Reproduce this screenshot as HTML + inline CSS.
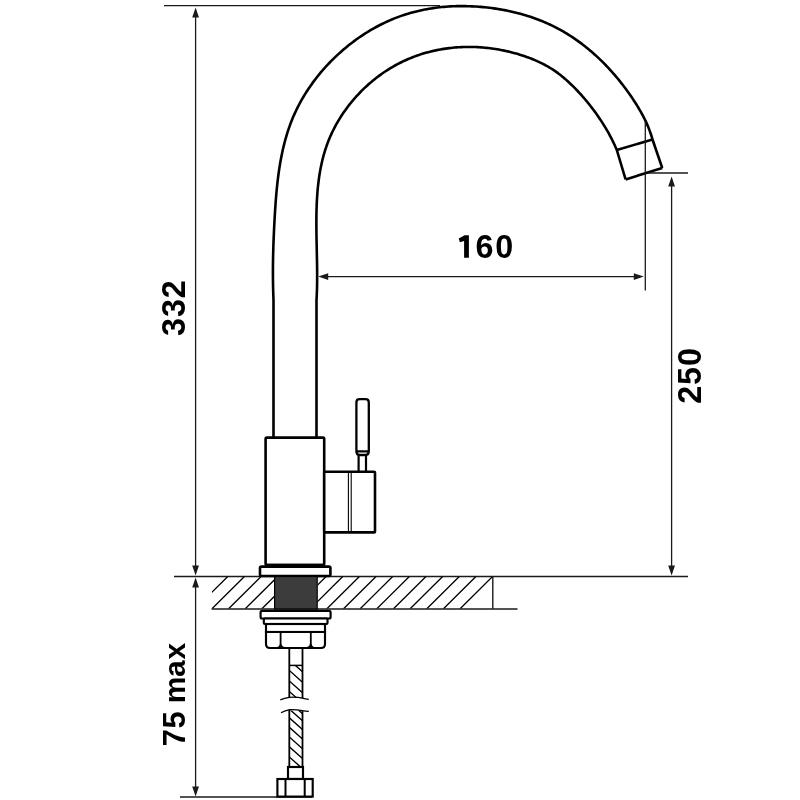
<!DOCTYPE html>
<html><head><meta charset="utf-8"><style>
html,body{margin:0;padding:0;background:#fff;width:800px;height:800px;overflow:hidden;font-family:"Liberation Sans",sans-serif;}
svg{display:block;will-change:transform}
</style></head><body>
<svg width="800" height="800" viewBox="0 0 800 800"><path d="M 273.5 437 L 273.50 300.00 L 273.41 297.79 L 273.33 295.59 L 273.25 293.39 L 273.19 291.20 L 273.13 289.01 L 273.08 286.83 L 273.03 284.65 L 273.00 282.48 L 272.97 280.31 L 272.95 278.15 L 272.93 275.98 L 272.93 273.83 L 272.92 271.67 L 272.93 269.52 L 272.94 267.37 L 272.96 265.22 L 272.98 263.07 L 273.01 260.93 L 273.05 258.79 L 273.09 256.65 L 273.14 254.51 L 273.19 252.37 L 273.25 250.23 L 273.31 248.09 L 273.38 245.95 L 273.45 243.81 L 273.53 241.67 L 273.61 239.53 L 273.70 237.39 L 273.79 235.24 L 273.89 233.10 L 273.99 230.95 L 274.09 228.80 L 274.19 226.65 L 274.30 224.50 L 274.42 222.34 L 274.53 220.18 L 274.65 218.02 L 274.78 215.85 L 274.91 213.68 L 275.04 211.51 L 275.17 209.34 L 275.32 207.16 L 275.47 204.99 L 275.62 202.81 L 275.78 200.63 L 275.95 198.45 L 276.13 196.27 L 276.32 194.09 L 276.51 191.91 L 276.72 189.73 L 276.93 187.55 L 277.16 185.37 L 277.39 183.19 L 277.64 181.02 L 277.90 178.85 L 278.17 176.68 L 278.45 174.51 L 278.75 172.34 L 279.06 170.18 L 279.39 168.02 L 279.73 165.87 L 280.08 163.72 L 280.45 161.57 L 280.84 159.43 L 281.25 157.30 L 281.67 155.17 L 282.11 153.04 L 282.56 150.92 L 283.04 148.81 L 283.53 146.70 L 284.05 144.60 L 284.58 142.51 L 285.14 140.43 L 285.71 138.35 L 286.31 136.28 L 286.93 134.22 L 287.57 132.17 L 288.23 130.12 L 288.92 128.09 L 289.63 126.07 L 290.37 124.05 L 291.13 122.05 L 291.92 120.05 L 292.73 118.07 L 293.57 116.10 L 294.43 114.14 L 295.32 112.19 L 296.24 110.25 L 297.17 108.32 L 298.14 106.40 L 299.13 104.50 L 300.14 102.61 L 301.17 100.73 L 302.23 98.86 L 303.32 97.01 L 304.42 95.16 L 305.55 93.33 L 306.70 91.52 L 307.88 89.71 L 309.07 87.92 L 310.29 86.15 L 311.53 84.38 L 312.79 82.63 L 314.07 80.89 L 315.38 79.17 L 316.70 77.46 L 318.05 75.77 L 319.41 74.09 L 320.80 72.42 L 322.20 70.77 L 323.63 69.13 L 325.07 67.51 L 326.54 65.91 L 328.02 64.32 L 329.52 62.74 L 331.04 61.18 L 332.58 59.63 L 334.13 58.11 L 335.71 56.59 L 337.30 55.10 L 338.91 53.62 L 340.53 52.16 L 342.17 50.71 L 343.83 49.28 L 345.51 47.88 L 347.20 46.48 L 348.90 45.11 L 350.62 43.76 L 352.36 42.43 L 354.11 41.11 L 355.88 39.82 L 357.66 38.55 L 359.45 37.30 L 361.26 36.07 L 363.08 34.86 L 364.91 33.67 L 366.76 32.50 L 368.62 31.36 L 370.49 30.24 L 372.38 29.14 L 374.27 28.06 L 376.18 27.01 L 378.10 25.99 L 380.03 24.98 L 381.97 24.00 L 383.92 23.05 L 385.89 22.12 L 387.86 21.22 L 389.84 20.34 L 391.83 19.49 L 393.83 18.67 L 395.84 17.87 L 397.86 17.10 L 399.89 16.36 L 401.92 15.64 L 403.96 14.95 L 406.01 14.29 L 408.07 13.66 L 410.14 13.06 L 412.21 12.48 L 414.29 11.93 L 416.37 11.40 L 418.47 10.90 L 420.56 10.43 L 422.67 9.98 L 424.78 9.56 L 426.89 9.16 L 429.01 8.79 L 431.13 8.44 L 433.26 8.12 L 435.39 7.82 L 437.53 7.55 L 439.67 7.30 L 441.82 7.08 L 443.96 6.88 L 446.11 6.70 L 448.27 6.55 L 450.42 6.42 L 452.58 6.31 L 454.74 6.22 L 456.90 6.16 L 459.07 6.12 L 461.23 6.10 L 463.40 6.10 L 465.57 6.13 L 467.73 6.18 L 469.90 6.24 L 472.07 6.33 L 474.24 6.44 L 476.41 6.57 L 478.57 6.72 L 480.74 6.89 L 482.91 7.09 L 485.07 7.30 L 487.23 7.53 L 489.39 7.78 L 491.55 8.05 L 493.71 8.35 L 495.86 8.66 L 498.01 9.00 L 500.15 9.35 L 502.29 9.73 L 504.43 10.13 L 506.56 10.55 L 508.69 10.99 L 510.82 11.45 L 512.93 11.94 L 515.04 12.44 L 517.15 12.97 L 519.25 13.52 L 521.34 14.10 L 523.42 14.69 L 525.50 15.31 L 527.57 15.95 L 529.63 16.61 L 531.69 17.30 L 533.73 18.01 L 535.77 18.74 L 537.80 19.50 L 539.81 20.28 L 541.82 21.08 L 543.82 21.90 L 545.80 22.75 L 547.78 23.62 L 549.74 24.52 L 551.70 25.44 L 553.64 26.39 L 555.57 27.36 L 557.48 28.35 L 559.39 29.37 L 561.28 30.41 L 563.15 31.48 L 565.02 32.57 L 566.87 33.68 L 568.71 34.82 L 570.53 35.98 L 572.34 37.16 L 574.14 38.37 L 575.92 39.59 L 577.69 40.84 L 579.45 42.11 L 581.19 43.40 L 582.91 44.71 L 584.63 46.04 L 586.33 47.40 L 588.01 48.77 L 589.68 50.15 L 591.34 51.56 L 592.98 52.99 L 594.61 54.43 L 596.22 55.89 L 597.82 57.37 L 599.40 58.87 L 600.97 60.38 L 602.52 61.91 L 604.06 63.45 L 605.59 65.01 L 607.09 66.58 L 608.59 68.17 L 610.06 69.77 L 611.53 71.39 L 612.97 73.02 L 614.40 74.67 L 615.82 76.32 L 617.22 77.99 L 618.61 79.67 L 619.97 81.37 L 621.33 83.07 L 622.66 84.79 L 623.98 86.51 L 625.29 88.25 L 626.58 90.00 L 627.85 91.76 L 629.11 93.52 L 630.34 95.30 L 631.57 97.08 L 632.77 98.87 L 633.96 100.67 L 635.14 102.48 L 636.29 104.30 L 637.43 106.12 L 638.54 107.96 L 639.63 109.81 L 640.70 111.67 L 641.75 113.54 L 642.76 115.43 L 643.75 117.33 L 644.72 119.25 L 645.65 121.18 L 646.55 123.14 L 647.42 125.11 L 648.26 127.10 L 649.06 129.11 L 649.83 131.14 L 650.55 133.20 L 651.24 135.27 L 651.89 137.37 L 652.50 139.50 L 662.25 168" fill="none" stroke="#000" stroke-width="2.60" stroke-linejoin="round"/>
<path d="M 316.5 437 L 316.50 300.00 L 316.60 298.28 L 316.69 296.55 L 316.77 294.82 L 316.84 293.09 L 316.90 291.35 L 316.96 289.60 L 317.01 287.86 L 317.05 286.11 L 317.08 284.35 L 317.10 282.59 L 317.12 280.83 L 317.13 279.07 L 317.14 277.30 L 317.14 275.53 L 317.14 273.75 L 317.13 271.98 L 317.11 270.20 L 317.10 268.42 L 317.07 266.63 L 317.05 264.84 L 317.02 263.05 L 316.99 261.26 L 316.96 259.47 L 316.92 257.68 L 316.89 255.88 L 316.85 254.08 L 316.81 252.28 L 316.77 250.48 L 316.74 248.68 L 316.70 246.87 L 316.66 245.07 L 316.62 243.27 L 316.59 241.46 L 316.55 239.65 L 316.52 237.85 L 316.49 236.04 L 316.46 234.23 L 316.44 232.43 L 316.42 230.62 L 316.40 228.81 L 316.39 227.00 L 316.38 225.20 L 316.37 223.39 L 316.38 221.59 L 316.38 219.78 L 316.40 217.98 L 316.41 216.18 L 316.44 214.38 L 316.47 212.58 L 316.51 210.78 L 316.56 208.98 L 316.62 207.19 L 316.68 205.39 L 316.75 203.60 L 316.84 201.81 L 316.93 200.03 L 317.03 198.24 L 317.14 196.46 L 317.26 194.68 L 317.40 192.90 L 317.54 191.13 L 317.70 189.36 L 317.86 187.59 L 318.04 185.83 L 318.24 184.06 L 318.44 182.31 L 318.66 180.55 L 318.90 178.80 L 319.14 177.05 L 319.40 175.31 L 319.68 173.57 L 319.97 171.84 L 320.28 170.11 L 320.60 168.38 L 320.94 166.66 L 321.30 164.94 L 321.67 163.23 L 322.06 161.52 L 322.47 159.82 L 322.89 158.12 L 323.34 156.43 L 323.80 154.75 L 324.28 153.07 L 324.78 151.39 L 325.30 149.72 L 325.85 148.06 L 326.41 146.40 L 326.99 144.75 L 327.59 143.11 L 328.22 141.47 L 328.87 139.84 L 329.54 138.21 L 330.23 136.60 L 330.94 134.99 L 331.68 133.38 L 332.43 131.79 L 333.21 130.20 L 334.01 128.62 L 334.82 127.05 L 335.66 125.49 L 336.52 123.94 L 337.40 122.39 L 338.30 120.86 L 339.22 119.33 L 340.15 117.82 L 341.11 116.31 L 342.08 114.82 L 343.08 113.33 L 344.09 111.86 L 345.12 110.39 L 346.16 108.94 L 347.23 107.50 L 348.31 106.07 L 349.41 104.66 L 350.53 103.25 L 351.66 101.86 L 352.81 100.48 L 353.98 99.11 L 355.16 97.76 L 356.36 96.42 L 357.58 95.09 L 358.81 93.78 L 360.05 92.48 L 361.31 91.20 L 362.59 89.93 L 363.88 88.67 L 365.18 87.43 L 366.50 86.21 L 367.83 85.00 L 369.18 83.80 L 370.54 82.62 L 371.91 81.46 L 373.29 80.32 L 374.69 79.19 L 376.11 78.07 L 377.53 76.98 L 378.96 75.90 L 380.41 74.84 L 381.87 73.80 L 383.34 72.77 L 384.83 71.77 L 386.32 70.78 L 387.82 69.81 L 389.34 68.86 L 390.87 67.93 L 392.40 67.02 L 393.95 66.13 L 395.50 65.25 L 397.07 64.40 L 398.64 63.57 L 400.23 62.76 L 401.82 61.97 L 403.42 61.20 L 405.03 60.45 L 406.65 59.72 L 408.27 59.02 L 409.91 58.33 L 411.55 57.67 L 413.20 57.02 L 414.86 56.39 L 416.52 55.79 L 418.19 55.21 L 419.87 54.64 L 421.55 54.10 L 423.24 53.58 L 424.93 53.07 L 426.64 52.59 L 428.34 52.13 L 430.06 51.69 L 431.77 51.26 L 433.50 50.86 L 435.22 50.48 L 436.96 50.11 L 438.69 49.77 L 440.43 49.45 L 442.18 49.14 L 443.93 48.86 L 445.68 48.60 L 447.43 48.35 L 449.19 48.13 L 450.95 47.92 L 452.72 47.74 L 454.48 47.57 L 456.25 47.42 L 458.02 47.30 L 459.80 47.19 L 461.57 47.10 L 463.35 47.03 L 465.13 46.98 L 466.90 46.94 L 468.68 46.93 L 470.46 46.94 L 472.24 46.96 L 474.03 47.01 L 475.81 47.07 L 477.59 47.15 L 479.37 47.25 L 481.15 47.37 L 482.93 47.51 L 484.71 47.67 L 486.48 47.84 L 488.26 48.04 L 490.03 48.25 L 491.81 48.48 L 493.58 48.73 L 495.35 49.00 L 497.11 49.28 L 498.87 49.59 L 500.64 49.91 L 502.39 50.25 L 504.15 50.61 L 505.90 50.98 L 507.65 51.38 L 509.39 51.79 L 511.13 52.22 L 512.86 52.67 L 514.60 53.14 L 516.32 53.62 L 518.04 54.12 L 519.76 54.64 L 521.47 55.18 L 523.18 55.74 L 524.87 56.31 L 526.57 56.90 L 528.25 57.51 L 529.93 58.14 L 531.59 58.79 L 533.25 59.46 L 534.90 60.15 L 536.54 60.87 L 538.16 61.60 L 539.78 62.35 L 541.38 63.13 L 542.97 63.92 L 544.54 64.74 L 546.10 65.58 L 547.65 66.45 L 549.18 67.34 L 550.69 68.25 L 552.19 69.18 L 553.67 70.14 L 555.13 71.13 L 556.57 72.14 L 558.00 73.17 L 559.40 74.23 L 560.79 75.32 L 562.15 76.43 L 563.50 77.56 L 564.84 78.71 L 566.16 79.88 L 567.48 81.06 L 568.78 82.26 L 570.08 83.47 L 571.36 84.70 L 572.64 85.93 L 573.90 87.19 L 575.15 88.45 L 576.40 89.73 L 577.63 91.02 L 578.85 92.32 L 580.06 93.63 L 581.26 94.96 L 582.45 96.29 L 583.63 97.64 L 584.80 99.00 L 585.95 100.36 L 587.10 101.74 L 588.23 103.13 L 589.35 104.52 L 590.45 105.93 L 591.55 107.34 L 592.63 108.76 L 593.71 110.19 L 594.76 111.63 L 595.81 113.07 L 596.84 114.52 L 597.86 115.98 L 598.87 117.44 L 599.87 118.91 L 600.85 120.39 L 601.82 121.87 L 602.77 123.36 L 603.71 124.85 L 604.64 126.35 L 605.56 127.86 L 606.45 129.37 L 607.34 130.90 L 608.21 132.43 L 609.07 133.97 L 609.91 135.52 L 610.74 137.08 L 611.55 138.66 L 612.35 140.24 L 613.13 141.83 L 613.89 143.44 L 614.64 145.06 L 615.38 146.69 L 616.10 148.34 L 616.80 150.00 L 625.6 179.4" fill="none" stroke="#000" stroke-width="2.60" stroke-linejoin="round"/>
<path d="M 616.8 150 L 652.5 139.5 M 625.6 179.4 L 662.25 168" fill="none" stroke="#000" stroke-width="2.60"/>
<line x1="164" y1="5.6" x2="440" y2="5.6" stroke="#1a1a1a" stroke-width="1.30"/>
<line x1="195.6" y1="12" x2="195.6" y2="570" stroke="#1a1a1a" stroke-width="1.30"/>
<path d="M 195.60 7.50 L 199.00 17.50 L 192.20 17.50 Z" fill="#1a1a1a"/>
<path d="M 195.60 575.60 L 192.20 565.60 L 199.00 565.60 Z" fill="#1a1a1a"/>
<line x1="174" y1="576.5" x2="688" y2="576.5" stroke="#1a1a1a" stroke-width="1.30"/>
<line x1="195.6" y1="582" x2="195.6" y2="792" stroke="#1a1a1a" stroke-width="1.30"/>
<path d="M 195.60 577.40 L 199.00 587.40 L 192.20 587.40 Z" fill="#1a1a1a"/>
<path d="M 195.60 796.50 L 192.20 786.50 L 199.00 786.50 Z" fill="#1a1a1a"/>
<line x1="180" y1="797" x2="312" y2="797" stroke="#1a1a1a" stroke-width="1.30"/>
<line x1="322" y1="276.6" x2="640" y2="276.6" stroke="#1a1a1a" stroke-width="1.30"/>
<path d="M 318.20 276.60 L 328.20 273.20 L 328.20 280.00 Z" fill="#1a1a1a"/>
<path d="M 643.80 276.60 L 633.80 280.00 L 633.80 273.20 Z" fill="#1a1a1a"/>
<line x1="645.3" y1="121" x2="645.3" y2="290.6" stroke="#1a1a1a" stroke-width="1.30"/>
<line x1="648" y1="173" x2="688" y2="173" stroke="#1a1a1a" stroke-width="1.30"/>
<line x1="671.6" y1="180" x2="671.6" y2="570" stroke="#1a1a1a" stroke-width="1.30"/>
<path d="M 671.60 176.50 L 675.00 186.50 L 668.20 186.50 Z" fill="#1a1a1a"/>
<path d="M 671.60 575.60 L 668.20 565.60 L 675.00 565.60 Z" fill="#1a1a1a"/>
<rect x="265.6" y="437.6" width="58.6" height="127.4" rx="1.2" fill="#fff" stroke="#000" stroke-width="2.60"/>
<line x1="265" y1="565.4" x2="325" y2="565.4" stroke="#000" stroke-width="3.2"/>
<rect x="324.2" y="471.8" width="50.8" height="60.6" rx="1" fill="#fff" stroke="#000" stroke-width="2.60"/>
<line x1="348.4" y1="472" x2="348.4" y2="532.4" stroke="#000" stroke-width="1.1"/>
<line x1="351.2" y1="472" x2="351.2" y2="532.4" stroke="#000" stroke-width="1.1"/>
<path d="M 358.6 471 L 358.6 455 L 366 455 L 366 471" fill="none" stroke="#000" stroke-width="2.2"/>
<path d="M 356.4 451.3 L 356.4 402.4 Q 356.4 399.2 359.6 399.2 L 365.6 399.2 Q 368.8 399.2 368.8 402.4 L 368.8 451.3 Q 368.8 455 365.6 455 L 359.6 455 Q 356.4 455 356.4 451.3 Z M 356.4 451.3 L 368.8 451.3" fill="#fff" stroke="#000" stroke-width="2.3"/>
<rect x="260" y="566.6" width="70.4" height="9.4" rx="1.5" fill="#fff" stroke="#000" stroke-width="2.60"/>
<defs><clipPath id="ct"><path d="M 317.6 576.5 L 492.8 576.5 L 492.8 608.8 L 317.6 608.8 Z"/></clipPath><clipPath id="ctl"><path d="M 212 576.5 L 274 576.5 L 274 608.8 L 212 608.8 Z"/></clipPath></defs>
<path d="M 460.10 608.8 L 492.60 576.5 M 443.45 608.8 L 475.95 576.5 M 426.80 608.8 L 459.30 576.5 M 410.15 608.8 L 442.65 576.5 M 393.50 608.8 L 426.00 576.5 M 376.85 608.8 L 409.35 576.5 M 360.20 608.8 L 392.70 576.5 M 343.55 608.8 L 376.05 576.5 M 326.90 608.8 L 359.40 576.5 M 310.25 608.8 L 342.75 576.5 M 293.60 608.8 L 326.10 576.5 M 276.95 608.8 L 309.45 576.5 M 260.30 608.8 L 292.80 576.5 M 243.65 608.8 L 276.15 576.5 M 227.00 608.8 L 259.50 576.5 M 210.35 608.8 L 242.85 576.5 M 193.70 608.8 L 226.20 576.5 M 177.05 608.8 L 209.55 576.5" clip-path="url(#ct)" stroke="#000" stroke-width="1.3" fill="none"/>
<path d="M 461.70 608.8 L 494.20 576.5 M 445.05 608.8 L 477.55 576.5 M 428.40 608.8 L 460.90 576.5 M 411.75 608.8 L 444.25 576.5 M 395.10 608.8 L 427.60 576.5 M 378.45 608.8 L 410.95 576.5 M 361.80 608.8 L 394.30 576.5 M 345.15 608.8 L 377.65 576.5 M 328.50 608.8 L 361.00 576.5 M 311.85 608.8 L 344.35 576.5 M 295.20 608.8 L 327.70 576.5 M 278.55 608.8 L 311.05 576.5 M 261.90 608.8 L 294.40 576.5 M 245.25 608.8 L 277.75 576.5 M 228.60 608.8 L 261.10 576.5 M 211.95 608.8 L 244.45 576.5 M 195.30 608.8 L 227.80 576.5 M 178.65 608.8 L 211.15 576.5" clip-path="url(#ctl)" stroke="#000" stroke-width="1.3" fill="none"/>
<line x1="211.5" y1="609" x2="517.5" y2="609" stroke="#1a1a1a" stroke-width="1.4"/>
<line x1="492.8" y1="576.5" x2="492.8" y2="608.8" stroke="#1a1a1a" stroke-width="1.4"/>
<rect x="274.6" y="576.5" width="42.6" height="32.5" fill="#3c3c3c" stroke="#000" stroke-width="1.2"/>
<rect x="260.6" y="610.8" width="70" height="7.7" rx="1.5" fill="#fff" stroke="#000" stroke-width="2.15"/>
<rect x="263.8" y="618.5" width="63.7" height="5.5" rx="1" fill="#fff" stroke="#000" stroke-width="2.15"/>
<rect x="266" y="624" width="59" height="8" fill="#fff" stroke="#000" stroke-width="2.15"/>
<path d="M 266 632 L 266 644 Q 266 648 270 648 L 321 648 Q 325 648 325 644 L 325 632 Z" fill="#fff" stroke="#000" stroke-width="2.15"/>
<path d="M 280.6 632 L 280.6 643.5 Q 280.8 647.6 285 648 M 310.8 632 L 310.8 643.5 Q 310.6 647.6 306.4 648 M 280.6 643.5 Q 280.4 647.6 277 648 M 310.8 643.5 Q 311 647.6 314.4 648" fill="none" stroke="#000" stroke-width="1.8"/>
<line x1="289.3" y1="648" x2="289.3" y2="697.6" stroke="#000" stroke-width="1.80"/>
<line x1="302.5" y1="648" x2="302.5" y2="698.3" stroke="#000" stroke-width="1.80"/>
<line x1="289.3" y1="709.6" x2="289.3" y2="767" stroke="#000" stroke-width="1.80"/>
<line x1="302.5" y1="710.6" x2="302.5" y2="767" stroke="#000" stroke-width="1.80"/>
<line x1="289.3" y1="665.4" x2="302.5" y2="665.4" stroke="#000" stroke-width="1.5"/>
<defs><clipPath id="hc"><path d="M 289.3 665.4 L 302.5 665.4 L 302.5 698 L 289.3 698 Z M 289.3 710.5 L 302.5 710.5 L 302.5 767 L 289.3 767 Z"/></clipPath></defs>
<path d="M 289.3 649.50 L 302.5 661.30 M 289.3 660.00 L 302.5 671.80 M 289.3 670.40 L 302.5 682.20 M 289.3 680.90 L 302.5 692.70 M 289.3 691.40 L 302.5 703.20 M 289.3 701.90 L 302.5 713.70 M 289.3 709.00 L 302.5 720.80 M 289.3 717.80 L 302.5 729.60 M 289.3 727.30 L 302.5 739.10 M 289.3 736.90 L 302.5 748.70 M 289.3 746.80 L 302.5 758.60 M 289.3 756.90 L 302.5 768.70 M 289.3 766.90 L 302.5 778.70" clip-path="url(#hc)" stroke="#000" stroke-width="1.4" fill="none"/>
<path d="M 280.3 699.8 Q 284.5 698.3 289.3 697.4 Q 296 696.6 302.4 698.2 Q 305.5 699 308.8 699.3" fill="none" stroke="#000" stroke-width="1.3"/>
<path d="M 281 712.8 Q 285 710.4 290 709.6 Q 296 709.4 302.4 710.6 Q 305.5 711.1 308.8 711.3" fill="none" stroke="#000" stroke-width="1.3"/>
<rect x="288" y="767" width="15" height="12" fill="#fff" stroke="#000" stroke-width="2.15"/>
<rect x="277.4" y="779" width="35.3" height="17.6" fill="#fff" stroke="#000" stroke-width="2.15"/>
<line x1="285.5" y1="779" x2="285.5" y2="796.6" stroke="#000" stroke-width="2"/>
<line x1="304.7" y1="779" x2="304.7" y2="796.6" stroke="#000" stroke-width="2"/>
<path d="M 468.9 235.2 L 468.9 257.7 L 464.1 257.7 L 464.1 241.0 L 459.9 242.3 L 458.7 238.6 L 464.6 235.2 Z" fill="#000"/>
<text x="475.6 495.24" y="258.2" font-size="32.3" font-family="Liberation Sans, sans-serif" font-weight="bold" fill="#000">60</text>
<text x="0 19.0 37.67" y="0" transform="translate(184.6,335.97) rotate(-90)" font-size="32.3" font-family="Liberation Sans, sans-serif" font-weight="bold" fill="#000">332</text>
<text x="0 18.67 37.74" y="0" transform="translate(701,403.7) rotate(-90)" font-size="32.3" font-family="Liberation Sans, sans-serif" font-weight="bold" fill="#000">250</text>
<text x="0 17.73" y="0" transform="translate(184.8,746.2) rotate(-90)" font-size="31" font-family="Liberation Sans, sans-serif" font-weight="bold" fill="#000">75</text>
<text x="42.73 68.9 86.55" y="0" transform="translate(184.8,745.93) rotate(-90) scale(1,0.97)" font-size="30" font-family="Liberation Sans, sans-serif" font-weight="bold" fill="#000">max</text></svg>
</body></html>
